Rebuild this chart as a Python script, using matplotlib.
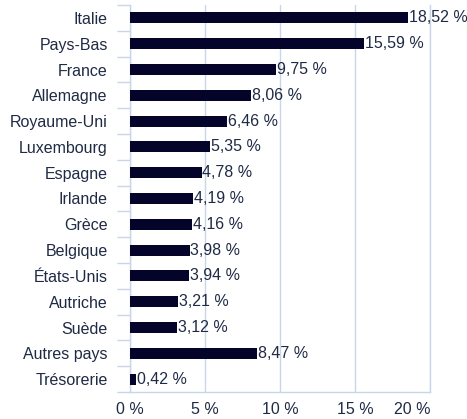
import matplotlib
matplotlib.use("Agg")
import matplotlib.pyplot as plt
import numpy as np

categories = ["Italie", "Pays-Bas", "France", "Allemagne", "Royaume-Uni", "Luxembourg",
              "Espagne", "Irlande", "Grèce", "Belgique", "États-Unis", "Autriche",
              "Suède", "Autres pays", "Trésorerie"]
values = [18.52, 15.59, 9.75, 8.06, 6.46, 5.35, 4.78, 4.19, 4.16, 3.98, 3.94, 3.21, 3.12, 8.47, 0.42]
xticks = [0, 5, 10, 15, 20]
xticklabels = ["0 %", "5 %", "10 %", "15 %", "20 %"]

plt.rcParams['font.family'] = ['Liberation Sans', 'DejaVu Sans']
text_color = "#1f2a44"
bar_color = "#04042a"
grid_color = "#c9d5e8"
fs = 11.5

W, H = 467, 419
fig = plt.figure(figsize=(W / 100, H / 100), dpi=100)
ax = fig.add_axes([130 / W, 27 / H, 300 / W, 387 / H])

y = np.arange(len(categories))
ax.barh(y, values, height=0.42, color=bar_color, zorder=3)
for yi, v in zip(y, values):
    ax.text(v + 0.05, yi, f"{v:.2f} %".replace(".", ","), va="center", ha="left",
            fontsize=fs, color=text_color, zorder=4)

ax.set_xlim(0, 20)
ax.set_ylim(len(categories) - 0.5, -0.5)
ax.set_yticks(y)
ax.set_yticklabels(categories, fontsize=fs, color=text_color)
ax.set_yticks(np.arange(len(categories) + 1) - 0.5, minor=True)
ax.tick_params(axis="y", which="major", length=0, pad=16)
ax.tick_params(axis="y", which="minor", length=9.5, width=1, color=grid_color, direction="out")

ax.set_xticks(xticks)
ax.set_xticklabels(xticklabels, fontsize=fs, color=text_color)
ax.tick_params(axis="x", length=0, pad=7.5)
labs = ax.get_xticklabels()
labs[-1].set_ha("right")

ax.grid(axis="x", color=grid_color, linewidth=1, zorder=0)
ax.spines["top"].set_visible(False)
for s in ["left", "bottom", "right"]:
    ax.spines[s].set_color(grid_color)
    ax.spines[s].set_linewidth(1)

fig.savefig("out.png", dpi=100)
